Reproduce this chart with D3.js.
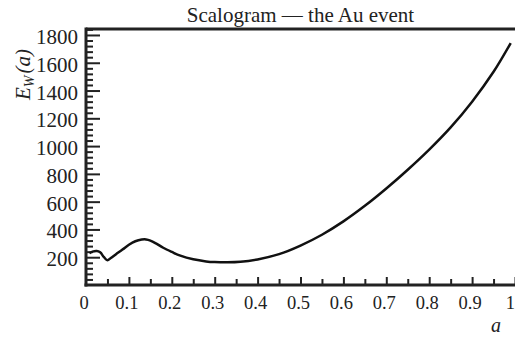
<!DOCTYPE html>
<html>
<head>
<meta charset="utf-8">
<script src="https://cdn.jsdelivr.net/npm/d3@7"></script>
<style>
  html, body { margin: 0; padding: 0; background: #fff; }
  svg { display: block; }
  text { font-family: "Liberation Serif", "Times New Roman", serif; fill: #222; }
</style>
</head>
<body>
<svg id="chart" width="515" height="337"></svg>
<script>
// Scale parameter a and wavelet energy E_W(a)
const scaleA = [0.008, 0.015, 0.025, 0.033, 0.042, 0.05, 0.058, 0.07, 0.085, 0.1,
                0.115, 0.13, 0.14, 0.15, 0.165, 0.18, 0.2, 0.22, 0.25, 0.28,
                0.3, 0.33, 0.36, 0.4, 0.45, 0.5, 0.55, 0.6, 0.65, 0.7,
                0.75, 0.8, 0.85, 0.9, 0.95, 0.99];
const energyW = [228, 240, 245, 235, 200, 178, 195, 222, 255, 290,
                 315, 327, 328, 320, 296, 268, 238, 211, 185, 170,
                 165, 163, 167, 184, 222, 284, 362, 458, 570, 695,
                 830, 975, 1135, 1320, 1535, 1742];
const xTicks = [0, 0.1, 0.2, 0.3, 0.4, 0.5, 0.6, 0.7, 0.8, 0.9, 1];
const xTickLabels = ["0", "0.1", "0.2", "0.3", "0.4", "0.5", "0.6", "0.7", "0.8", "0.9", "1"];
const yTicks = [200, 400, 600, 800, 1000, 1200, 1400, 1600, 1800];

const ink = "#222";
const svg = d3.select("#chart");
const plotL = 86, plotR = 515, plotT = 29, plotB = 285;

const x = d3.scaleLinear().domain([0, 1]).range([plotL, plotR]);
const y = d3.scaleLinear().domain([0, 1843]).range([plotB, plotT]);

// Title
svg.append("text")
  .attr("x", (plotL + plotR) / 2).attr("y", 22)
  .attr("text-anchor", "middle")
  .style("font-size", "21px")
  .text("Scalogram \u2014 the Au event");

// Frame: top line
svg.append("line")
  .attr("x1", plotL).attr("x2", plotR).attr("y1", plotT).attr("y2", plotT)
  .attr("stroke", ink).attr("stroke-width", 3);

// Y axis with inward ticks
const yMinor = d3.range(40, 1843, 40).filter(v => v % 200 !== 0);
const yAxisMinor = d3.axisRight(y).tickValues(yMinor).tickSize(7).tickFormat("");
const yAxisMajor = d3.axisRight(y).tickValues(yTicks).tickSize(14).tickFormat("");
[yAxisMinor, yAxisMajor].forEach(ax => {
  const g = svg.append("g").attr("transform", `translate(${plotL},0)`).call(ax);
  g.select(".domain").remove();
  g.selectAll("line").attr("stroke", ink).attr("stroke-width", 2);
});
svg.append("g").selectAll("text").data(yTicks).join("text")
  .attr("x", plotL - 8).attr("y", d => y(d) + 9)
  .attr("text-anchor", "end")
  .style("font-size", "21px")
  .text(d => d);

// X axis with inward ticks
const xMinor = d3.range(0.05, 1, 0.1);
const xAxisMinor = d3.axisTop(x).tickValues(xMinor).tickSize(6).tickFormat("");
const xAxisMajor = d3.axisTop(x).tickValues(xTicks.slice(1)).tickSize(8).tickFormat("");
[xAxisMinor, xAxisMajor].forEach(ax => {
  const g = svg.append("g").attr("transform", `translate(0,${plotB})`).call(ax);
  g.select(".domain").remove();
  g.selectAll("line").attr("stroke", ink).attr("stroke-width", 2);
});
svg.append("g").selectAll("text").data(xTicks).join("text")
  .attr("x", (d, i) => i === xTicks.length - 1 ? plotR : x(d) - 2)
  .attr("y", 308.5)
  .attr("text-anchor", (d, i) => i === xTicks.length - 1 ? "end" : "middle")
  .style("font-size", "18.5px")
  .text((d, i) => xTickLabels[i]);

// Axis lines
svg.append("line")
  .attr("x1", plotL).attr("x2", plotL).attr("y1", plotT - 1.5).attr("y2", plotB + 1.5)
  .attr("stroke", ink).attr("stroke-width", 3);
svg.append("line")
  .attr("x1", plotL - 1.5).attr("x2", plotR).attr("y1", plotB).attr("y2", plotB)
  .attr("stroke", ink).attr("stroke-width", 3);

// Axis titles
svg.append("text")
  .attr("x", 501).attr("y", 332)
  .attr("text-anchor", "end")
  .style("font-size", "20px").style("font-style", "italic")
  .text("a");

const yt = svg.append("text")
  .attr("transform", "translate(30,100) rotate(-90)")
  .attr("text-anchor", "start")
  .style("font-size", "21px").style("font-style", "italic");
yt.append("tspan").text("E");
yt.append("tspan").attr("dy", 4).style("font-size", "14px").text("W");
yt.append("tspan").attr("dy", -4).attr("dx", 2).text("(a)");

// Energy curve
const line = d3.line()
  .x((d, i) => x(scaleA[i]))
  .y(d => y(d))
  .curve(d3.curveCatmullRom.alpha(0.5));
svg.append("path")
  .datum(energyW)
  .attr("d", line)
  .attr("fill", "none")
  .attr("stroke", "#111")
  .attr("stroke-width", 2.5);
</script>
</body>
</html>
